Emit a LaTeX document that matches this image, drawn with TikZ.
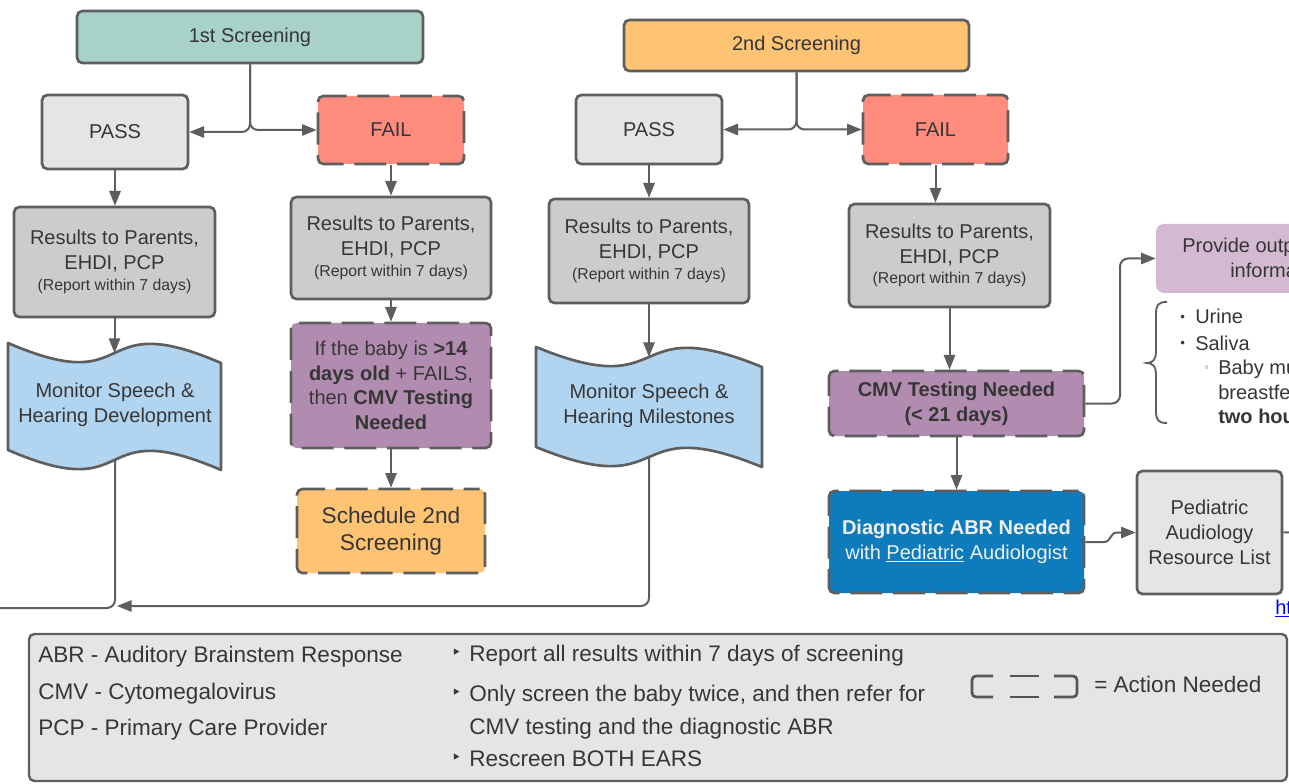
\documentclass[tikz,border=0pt]{standalone}
\usepackage{fontspec}
\setmainfont{Liberation Sans}
\newfontfamily\djv{DejaVu Sans}
\usetikzlibrary{arrows.meta}
\definecolor{bord}{HTML}{5E5E5E}
\definecolor{txtc}{HTML}{363636}
\definecolor{teal1}{HTML}{A8D2C9}
\definecolor{lgray}{HTML}{E5E5E5}
\definecolor{mgray}{HTML}{CCCCCC}
\definecolor{salmon}{HTML}{FF8C7D}
\definecolor{purp}{HTML}{B28BB1}
\definecolor{lpurp}{HTML}{D4B9D3}
\definecolor{orng}{HTML}{FEC373}
\definecolor{tapeb}{HTML}{B1D5F0}
\definecolor{dblue}{HTML}{0E7BBD}
\definecolor{linkb}{HTML}{0000EE}
\newcommand\smtxt{\fontsize{11.85}{14}\selectfont}
\begin{document}
\begin{tikzpicture}[x=0.75pt,y=-0.75pt,
 boxat/.style n args={4}{minimum width={(#3-#1)*0.75pt}, minimum height={(#4-#2)*0.75pt}, at={({(#1+#3)/2},{(#2+#4)/2})}},
 box/.style={draw=bord, line width=2pt, rounded corners=4pt, inner sep=0pt, text=txtc, align=center, font=\fontsize{15}{18.5}\selectfont},
 act/.style={box, dash pattern=on 24pt off 8pt, dash phase=12pt},
 conn/.style={draw=bord, line width=1.5pt},
 arr/.style={conn, -{Triangle[length=11pt,width=8.5pt]}},
 txt/.style={text=txtc, inner sep=0pt, font=\fontsize{15}{18.5}\selectfont},
 frag/.style={txt, anchor=base west},
 leg/.style={text=txtc, inner sep=0pt, anchor=base west, font=\fontsize{16.9}{20}\selectfont},
 legb/.style={leg, font=\djv\fontsize{13}{15}\selectfont},
 tape/.style={draw=bord, line width=2pt, fill=tapeb, line join=round},
 sym/.style={draw=bord!90!black, line width=2pt, rounded corners=3pt},
]
\useasboundingbox (0,0) rectangle (1289,784);

% ---------- left column ----------
\node[box, fill=teal1, boxat={77}{11}{423}{63}] (s1) {1st Screening};
\node[box, fill=lgray, boxat={42}{95}{188}{169}] (p1) {PASS};
\node[act, fill=salmon, boxat={318}{96}{464}{164}] (f1) {FAIL};
\node[box, fill=mgray, boxat={14}{207}{215}{317}] (r1) {Results to Parents,\\EHDI, PCP\\[-3pt]{\smtxt (Report within 7 days)}};
\node[box, fill=mgray, boxat={291}{197}{491}{299}] (r2) {Results to Parents,\\EHDI, PCP\\[-3pt]{\smtxt (Report within 7 days)}};
\node[act, fill=purp, boxat={291}{323}{491}{448}] (c1) {If the baby is \textbf{>14}\\\textbf{days old} + FAILS,\\then \textbf{CMV Testing}\\\textbf{Needed}};
\node[act, fill=orng, boxat={297}{489}{485}{573}, font=\fontsize{17}{20.3}\selectfont] (sc) {Schedule 2nd\\Screening};

\path[tape] (8,343) .. controls (140,400) and (89,306) .. (221,363) -- (221,470) .. controls (89,413) and (140,507) .. (8,450) -- cycle;
\node[txt, align=center] (m1) at (115,405) {Monitor Speech \&\\Hearing Development};
\coordinate (m1t) at (115,353);
\coordinate (m1b) at (115,460);

% ---------- middle / right column ----------
\node[box, fill=orng, boxat={624}{20}{969}{71}] (s2) {2nd Screening};
\node[box, fill=lgray, boxat={576}{95}{722}{164}] (p2) {PASS};
\node[act, fill=salmon, boxat={863}{95}{1008}{164}] (f2) {FAIL};
\node[box, fill=mgray, boxat={549}{199}{749}{303}] (r3) {Results to Parents,\\EHDI, PCP\\[-3pt]{\smtxt (Report within 7 days)}};
\node[box, fill=mgray, boxat={849}{204}{1050}{307}] (r4) {Results to Parents,\\EHDI, PCP\\[-3pt]{\smtxt (Report within 7 days)}};

\path[tape] (536,347) .. controls (675,404) and (623,310) .. (762,367) -- (762,467) .. controls (623,410) and (675,504) .. (536,447) -- cycle;
\node[txt, align=center] (m2) at (649,406) {Monitor Speech \&\\Hearing Milestones};
\coordinate (m2t) at (649,357);
\coordinate (m2b) at (649,457);

\node[act, fill=purp, boxat={829}{371}{1084}{436}] (cmv) {\textbf{CMV Testing Needed}\\\textbf{(< 21 days)}};
\node[act, fill=dblue, text=white!94!black, boxat={829}{491}{1084}{593}] (dg) {\textbf{Diagnostic ABR Needed}\\with \underline{Pediatric} Audiologist};
\node[box, fill=lgray, boxat={1137}{471}{1282}{594}, font=\fontsize{15}{18.75}\selectfont] (pal) {Pediatric\\Audiology\\Resource List};

\node[fill=lpurp, rounded corners=6pt, inner sep=0pt, boxat={1156}{224}{1330}{293}] (pv) {};
\node[frag] (pv1) at (1182,253) {Provide outp};
\node[frag] (pv2) at (1230,278) {informa};

% brace and list
\draw[conn, line width=1.4pt] (1167,302) .. controls (1158,302) and (1156,305) .. (1156,314) -- (1156,352) .. controls (1156,359) and (1153,363) .. (1147,363) .. controls (1153,363) and (1156,367) .. (1156,374) -- (1156,411) .. controls (1156,420) and (1158,423) .. (1167,423);
\node[frag, font=\fontsize{10}{12}\selectfont] (bu1) at (1180,322) {•};
\node[frag] (li1) at (1195,324) {Urine};
\node[frag, font=\fontsize{10}{12}\selectfont] (bu2) at (1180,348) {•};
\node[frag] (li2) at (1195,350) {Saliva};
\node[frag, font=\djv\fontsize{8}{10}\selectfont] (bu3) at (1203,372) {◦};
\node[frag] (li3) at (1218,374) {Baby mu};
\node[frag] (li4) at (1218,399) {breastfe};
\node[frag] (li5) at (1218,423) {\textbf{two hou}};

\node[frag, text=linkb] (lk) at (1275,614) {\underline{ht}};
\coordinate (offr) at (1295,532);
\coordinate (offl) at (-10,608);
\coordinate (jn) at (117,606);
\coordinate (cmvx) at (1120,403.5);

% ---------- connectors ----------
\draw[arr, rounded corners=6pt] (s1.south) |- (p1.east);
\draw[arr, rounded corners=6pt] (s1.south) |- (f1.west);
\draw[arr] (p1.south) -- (p1.south |- r1.north);
\draw[arr] (f1.south) -- (f1.south |- r2.north);
\draw[arr] (r2.south) -- (r2.south |- c1.north);
\draw[arr] (c1.south) -- (c1.south |- sc.north);
\draw[arr] (r1.south) -- (r1.south |- m1t);
\draw[arr, rounded corners=6pt] (s2.south) |- (p2.east);
\draw[arr, rounded corners=6pt] (s2.south) |- (f2.west);
\draw[arr] (p2.south) -- (p2.south |- r3.north);
\draw[arr] (f2.south) -- (f2.south |- r4.north);
\draw[arr] (r3.south) -- (m2t);
\draw[arr] (r4.south) -- (r4.south |- cmv.north);
\draw[arr] (cmv.south) -- (cmv.south |- dg.north);
\draw[arr, rounded corners=6pt] (cmv.east) -- (cmvx) |- (pv.west);
\draw[arr] (dg.east) -- (1104,542) .. controls (1111,542) and (1110,532.5) .. (1117,532.5) -- (pal.west);
\draw[conn] (pal.east) -- (offr);
\draw[conn, rounded corners=6pt] (m1b) |- (offl);
\draw[arr, rounded corners=6pt] (m2b) |- (jn);

% ---------- legend ----------
\node[draw=bord, line width=1.8pt, fill=lgray, rounded corners=4pt, inner sep=0pt, boxat={29}{634}{1287}{781}] (lg) {};
\node[leg] (l1) at (38,662) {ABR - Auditory Brainstem Response};
\node[leg] (l2) at (38,699) {CMV - Cytomegalovirus};
\node[leg] (l3) at (38,735) {PCP - Primary Care Provider};
\node[legb] (lb1) at (451,658) {‣};
\node[leg] (t1) at (469,661) {Report all results within 7 days of screening};
\node[legb] (lb2) at (451,698) {‣};
\node[leg] (t2) at (469,701) {Only screen the baby twice, and then refer for};
\node[leg] (t3) at (469,734) {CMV testing and the diagnostic ABR};
\node[legb] (lb3) at (451,763) {‣};
\node[leg] (t4) at (469,766) {Rescreen BOTH EARS};
\draw[sym] (993,676) -| (972,697) -- (993,697);
\draw[sym] (1010,676) -- (1039,676);
\draw[sym] (1010,697) -- (1039,697);
\draw[sym] (1054,676) -| (1077,697) -- (1054,697);
\node[leg] (an) at (1094,692) {= Action Needed};
\end{tikzpicture}
\end{document}
